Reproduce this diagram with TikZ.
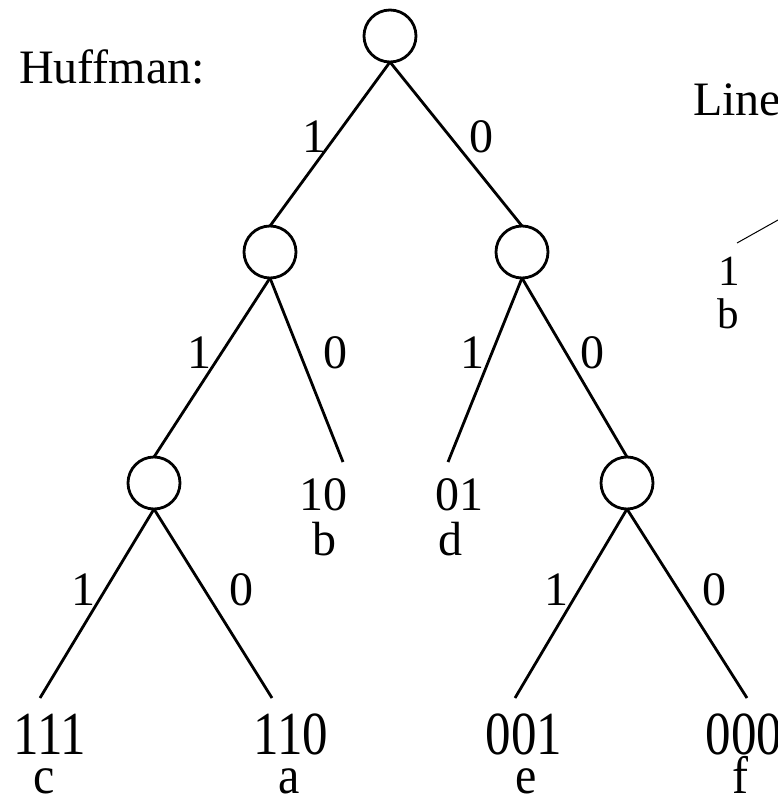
\documentclass[tikz,border=0pt]{standalone}
\usepackage{fontspec}
\setmainfont{Liberation Serif}
\begin{document}
\begin{tikzpicture}[x=1pt,y=-1pt,
  every node/.style={inner sep=0pt, outer sep=0pt},
  huf/.style={circle, draw, line width=2.8pt, minimum size=52pt},
  edge/.style={line width=2.8pt},
  txt/.style={font=\fontsize{48}{58}\selectfont, anchor=base},
  leaftxt/.style={font=\fontsize{51}{58}\selectfont, anchor=base},
  smalltxt/.style={font=\fontsize{43}{50}\selectfont, anchor=base}]
\useasboundingbox (0,0) rectangle (778,798);

% circles
\node[huf] (root) at (390,36) {};
\node[huf] (n1) at (270,252) {};
\node[huf] (n0) at (522,252) {};
\node[huf] (n11) at (154,483) {};
\node[huf] (n00) at (627,483) {};

% free leaf ends
\coordinate (e10) at (343,462);
\coordinate (e01) at (448,462);
\coordinate (e111) at (40,698);
\coordinate (e110) at (272,698);
\coordinate (e001) at (515,698);
\coordinate (e000) at (747,698);

% edges
\draw[edge] (root.south) -- (n1.north);
\draw[edge] (root.south) -- (n0.north);
\draw[edge] (n1.south) -- (n11.north);
\draw[edge] (n1.south) -- (e10);
\draw[edge] (n0.south) -- (e01);
\draw[edge] (n0.south) -- (n00.north);
\draw[edge] (n11.south) -- (e111);
\draw[edge] (n11.south) -- (e110);
\draw[edge] (n00.south) -- (e001);
\draw[edge] (n00.south) -- (e000);

% edge labels
\node[txt] (lr1) at (314,152) {1};
\node[txt] (lr0) at (481,152) {0};
\node[txt] (la1) at (199,368) {1};
\node[txt] (la0) at (335,368) {0};
\node[txt] (lb1) at (472,368) {1};
\node[txt] (lb0) at (592,368) {0};
\node[txt] (lc1) at (83,605) {1};
\node[txt] (lc0) at (241,605) {0};
\node[txt] (ld1) at (556,605) {1};
\node[txt] (ld0) at (714,605) {0};

% leaves
\node[txt] (c10) at (323,510) {10};
\node[txt] (s10) at (324,555) {b};
\node[txt] (c01) at (459,510) {01};
\node[txt] (s01) at (450,555) {d};

\node[leaftxt] (c111) at (50,754) {\scalebox{1}[1.2]{111}};
\node[leaftxt] (c110) at (291,754) {\scalebox{1}[1.2]{110}};
\node[leaftxt] (c001) at (524,754) {\scalebox{1}[1.2]{001}};
\node[leaftxt] (c000) at (744,754) {\scalebox{1}[1.2]{000}};
\node[txt] (sc) at (44,793) {\scalebox{1}[1.1]{c}};
\node[txt] (sa) at (289,793) {\scalebox{1}[1.1]{a}};
\node[txt] (se) at (526,793) {\scalebox{1}[1.1]{e}};
\node[txt] (sf) at (740,793) {\scalebox{1}[1.1]{f}};

% titles
\node[txt] (huffman) at (112,83) {Huffman:};
\node[txt, anchor=base west] (line) at (693,115) {Line};

% partial second tree
\coordinate (pa) at (737,243);
\coordinate (pb) at (778,220);
\draw[line width=1pt] (pa) -- (pb);
\node[smalltxt] (p1) at (729,285) {1};
\node[smalltxt] (pbl) at (728,328) {b};
\end{tikzpicture}
\end{document}
